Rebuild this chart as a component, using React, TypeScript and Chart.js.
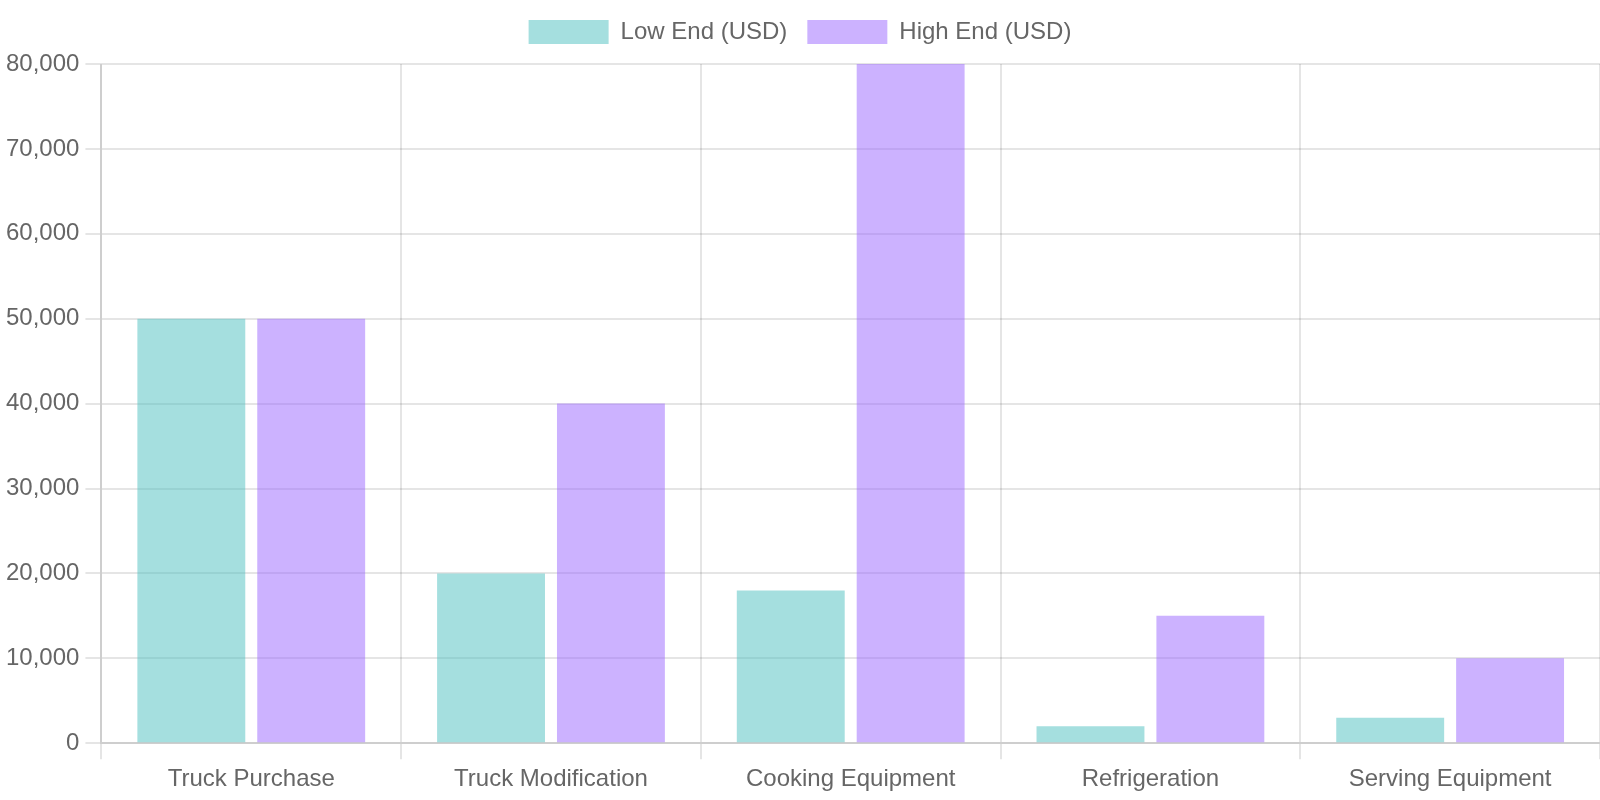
import React, { useEffect, useRef } from "react";
import { Chart, registerables } from "chart.js";

Chart.register(...registerables);

const categories = [
  "Truck Purchase",
  "Truck Modification",
  "Cooking Equipment",
  "Refrigeration",
  "Serving Equipment",
];
const lowEnd = [50000, 20000, 18000, 2000, 3000];
const highEnd = [50000, 40000, 80000, 15000, 10000];

export default function App() {
  const ref = useRef<HTMLCanvasElement | null>(null);

  useEffect(() => {
    document.body.style.margin = "0";
    const canvas = ref.current;
    if (!canvas) return;
    const chart = new Chart(canvas, {
      type: "bar",
      data: {
        labels: categories,
        datasets: [
          {
            label: "Low End (USD)",
            data: lowEnd,
            backgroundColor: "rgba(75, 192, 192, 0.5)",
          },
          {
            label: "High End (USD)",
            data: highEnd,
            backgroundColor: "rgba(153, 102, 255, 0.5)",
          },
        ],
      },
      options: {
        animation: false,
        responsive: false,
        devicePixelRatio: 2,
        scales: {
          y: { beginAtZero: true },
        },
      },
    });
    return () => chart.destroy();
  }, []);

  return (
    <div style={{ width: 1600, height: 800, overflow: "hidden", position: "relative" }}>
      <div
        style={{
          position: "absolute",
          left: 0,
          top: 0,
          width: 800,
          height: 400,
          transform: "scale(2)",
          transformOrigin: "0 0",
        }}
      >
        <canvas ref={ref} width={800} height={400} style={{ width: 800, height: 400, display: "block" }} />
      </div>
    </div>
  );
}
